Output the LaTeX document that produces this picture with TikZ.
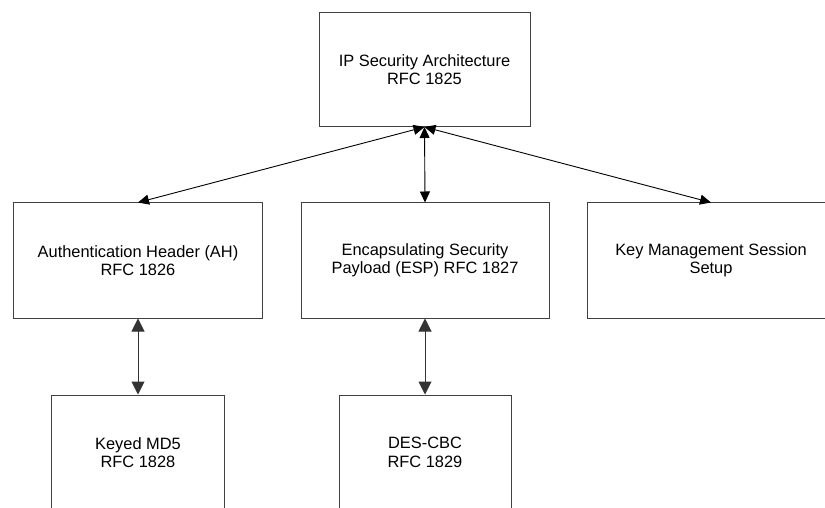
\documentclass[tikz,border=0pt]{standalone}
\usepackage{fontspec}
\setmainfont{Liberation Sans}
\usetikzlibrary{arrows.meta}
\begin{document}
\begin{tikzpicture}[x=1bp,y=-1bp,
  box/.style={draw=black!75,line width=1bp,rectangle,inner sep=0pt,
    align=center,font=\fontsize{16.4bp}{18.5bp}\selectfont},
  wide/.style={box,minimum width=248bp,minimum height=115bp},
  narrow/.style={box,minimum width=172bp,minimum height=115bp},
  link/.style={line width=0.9bp,draw=black,
    {Triangle[length=11bp,width=10bp]}-{Triangle[length=11bp,width=10bp]}},
  biglink/.style={line width=1bp,draw=black!80,
    {Triangle[length=13bp,width=13bp]}-{Triangle[length=13bp,width=13bp]}}]
\useasboundingbox (0,0) rectangle (825,508);
\node[box,minimum width=211bp,minimum height=114bp] (top) at (424.5,69.5) {IP Security Architecture\\RFC 1825};
\node[wide] (ah) at (138,260.5) {Authentication Header (AH)\\RFC 1826};
\node[wide] (esp) at (425,260.5) {Encapsulating Security\\Payload (ESP) RFC 1827};
\node[wide] (key) at (711,260.5) {Key Management Session\\Setup};
\node[narrow] (md5) at (138,452.5) {Keyed MD5\\RFC 1828};
\node[narrow] (des) at (425,452.5) {DES-CBC\\RFC 1829};
% connectors
\draw[link] (top.south) -- (ah.north);
\draw[link] (top.south) -- (esp.north);
\draw[link] (top.south) -- (key.north);
\draw[biglink] (ah.south) -- (md5.north);
\draw[biglink] (esp.south) -- (des.north);
\end{tikzpicture}
\end{document}
